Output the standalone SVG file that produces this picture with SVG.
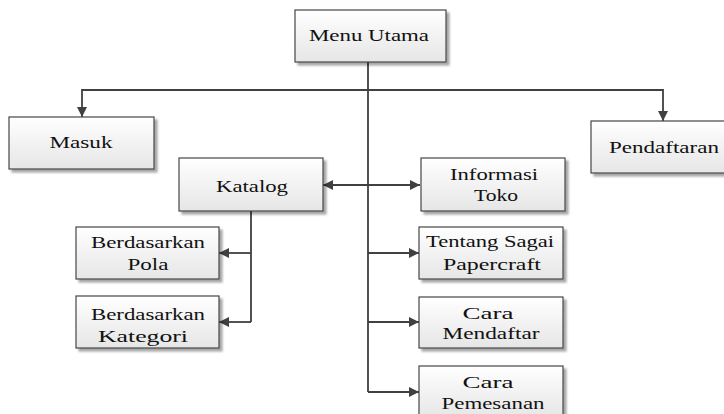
<svg xmlns="http://www.w3.org/2000/svg" width="724" height="414" viewBox="0 0 724 414">
<defs>
<linearGradient id="g" x1="0" y1="0" x2="0" y2="1">
<stop offset="0" stop-color="#ffffff"/>
<stop offset="1" stop-color="#e6e6e6"/>
</linearGradient>
<marker id="ah" viewBox="0 0 10 10" refX="10" refY="5" markerWidth="10" markerHeight="10" markerUnits="userSpaceOnUse" orient="auto-start-reverse">
<path d="M0,0 L10,5 L0,10 Z" fill="#404040"/>
</marker>
<filter id="sh" x="-10%" y="-10%" width="130%" height="140%">
<feGaussianBlur in="SourceAlpha" stdDeviation="1.2"/>
<feOffset dx="3" dy="3" result="b"/>
<feComponentTransfer><feFuncA type="linear" slope="0.35"/></feComponentTransfer>
<feMerge><feMergeNode/><feMergeNode in="SourceGraphic"/></feMerge>
</filter>
</defs>
<style>
.box{fill:url(#g);stroke:#474747;stroke-width:1.2;filter:url(#sh)}
.t{font-family:"Liberation Serif","Times New Roman",serif;font-size:16px;fill:#111;text-anchor:middle}
.c{fill:none;stroke:#404040;stroke-width:1.8}
.a{marker-end:url(#ah)}
.d{marker-start:url(#ah);marker-end:url(#ah)}
</style>
<rect width="724" height="414" fill="#ffffff"/>
<g id="connectors">
<path class="c" d="M368,62 V392"/>
<path class="c a" d="M368,90 H82 V117"/>
<path class="c a" d="M368,90 H663 V121"/>
<path class="c d" d="M323,185 H420"/>
<path class="c" d="M251,211 V322"/>
<path class="c a" d="M251,253 H219"/>
<path class="c a" d="M251,322 H219"/>
<path class="c a" d="M368,253 H419"/>
<path class="c a" d="M368,322 H419"/>
<path class="c a" d="M368,392 H419"/>
</g>
<g id="menu-utama">
<rect class="box" x="295" y="10" width="151" height="52"/>
<text class="t" x="369" y="41" textLength="120" lengthAdjust="spacingAndGlyphs">Menu Utama</text>
</g>
<g id="masuk">
<rect class="box" x="9" y="117" width="145" height="52"/>
<text class="t" x="81" y="148" textLength="63" lengthAdjust="spacingAndGlyphs">Masuk</text>
</g>
<g id="pendaftaran">
<rect class="box" x="591" y="121" width="144" height="52"/>
<text class="t" x="664" y="153" textLength="110" lengthAdjust="spacingAndGlyphs">Pendaftaran</text>
</g>
<g id="katalog">
<rect class="box" x="179" y="158" width="144" height="53"/>
<text class="t" x="252" y="192" textLength="72" lengthAdjust="spacingAndGlyphs">Katalog</text>
</g>
<g id="informasi-toko">
<rect class="box" x="421" y="158" width="144" height="53"/>
<text class="t" x="494" y="180" textLength="88" lengthAdjust="spacingAndGlyphs">Informasi</text>
<text class="t" x="496" y="201" textLength="44" lengthAdjust="spacingAndGlyphs">Toko</text>
</g>
<g id="berdasarkan-pola">
<rect class="box" x="76" y="227" width="143" height="52"/>
<text class="t" x="148" y="248" textLength="114" lengthAdjust="spacingAndGlyphs">Berdasarkan</text>
<text class="t" x="148" y="270" textLength="41" lengthAdjust="spacingAndGlyphs">Pola</text>
</g>
<g id="berdasarkan-kategori">
<rect class="box" x="76" y="296" width="143" height="52"/>
<text class="t" x="148" y="320" textLength="114" lengthAdjust="spacingAndGlyphs">Berdasarkan</text>
<text class="t" x="143" y="342" textLength="90" lengthAdjust="spacingAndGlyphs">Kategori</text>
</g>
<g id="tentang-sagai-papercraft">
<rect class="box" x="419" y="227" width="144" height="52"/>
<text class="t" x="490" y="247" textLength="128" lengthAdjust="spacingAndGlyphs">Tentang Sagai</text>
<text class="t" x="492" y="270" textLength="98" lengthAdjust="spacingAndGlyphs">Papercraft</text>
</g>
<g id="cara-mendaftar">
<rect class="box" x="419" y="297" width="144" height="51"/>
<text class="t" x="488" y="319" textLength="51" lengthAdjust="spacingAndGlyphs">Cara</text>
<text class="t" x="491" y="339" textLength="97" lengthAdjust="spacingAndGlyphs">Mendaftar</text>
</g>
<g id="cara-pemesanan">
<rect class="box" x="419" y="366" width="144" height="52"/>
<text class="t" x="488" y="388" textLength="51" lengthAdjust="spacingAndGlyphs">Cara</text>
<text class="t" x="493" y="409" textLength="103" lengthAdjust="spacingAndGlyphs">Pemesanan</text>
</g>
</svg>
